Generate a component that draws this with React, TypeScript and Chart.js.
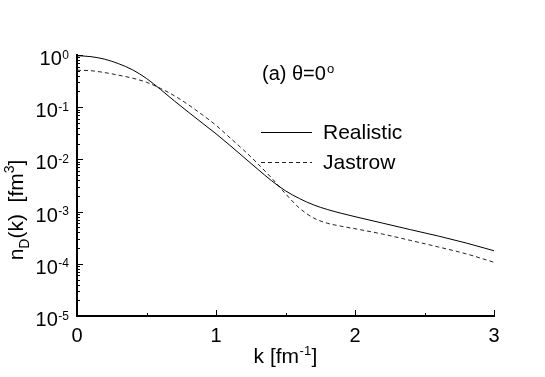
import React, { useEffect, useRef } from "react";
import { Chart, registerables } from "chart.js";

Chart.register(...registerables);

// momentum k [fm^-1]
const kValues = [0, 0.1, 0.2, 0.3, 0.4, 0.5, 0.6, 0.7, 0.8, 0.9, 1.0, 1.1, 1.2, 1.3, 1.4, 1.5, 1.6, 1.7, 1.8, 1.9, 2.0, 2.2, 2.4, 2.6, 2.8, 3.0];
// n_D(k) realistic (solid)
const realistic = [0.97, 0.93, 0.83, 0.68, 0.52, 0.355, 0.22, 0.132, 0.081, 0.05, 0.031, 0.0186, 0.011, 0.0065, 0.0039, 0.0025, 0.00178, 0.00135, 0.0011, 0.00093, 0.0008, 0.0006, 0.00045, 0.00034, 0.00025, 0.000178];
// n_D(k) Jastrow (dashed)
const jastrow = [0.51, 0.5, 0.46, 0.41, 0.36, 0.3, 0.23, 0.166, 0.112, 0.072, 0.045, 0.026, 0.015, 0.0083, 0.0044, 0.0022, 0.00117, 0.00076, 0.0006, 0.000525, 0.00047, 0.00037, 0.00028, 0.00021, 0.000155, 0.000107];

const seriesNames = ["Realistic", "Jastrow"];
const xTickValues = [0, 1, 2, 3];
const xMinorTicks = [0.5, 1.5, 2.5];
const yTickExponents = [0, -1, -2, -3, -4, -5];

const FONT = "'Liberation Sans', Arial, Helvetica, sans-serif";

const overlay = {
  id: "overlay",
  afterDraw(chart: any) {
    const ctx = chart.ctx as CanvasRenderingContext2D;
    const xs = chart.scales.x;
    const ys = chart.scales.y;
    const area = chart.chartArea;
    ctx.save();
    ctx.strokeStyle = "#000";
    ctx.fillStyle = "#000";
    ctx.lineWidth = 1;

    // y ticks (inward)
    for (const e of yTickExponents) {
      const p = Math.round(ys.getPixelForValue(Math.pow(10, e))) + 0.5;
      ctx.beginPath();
      ctx.moveTo(area.left, p);
      ctx.lineTo(area.left + 6, p);
      ctx.stroke();
      if (e < 0) {
        for (let m = 2; m <= 9; m++) {
          const q = Math.round(ys.getPixelForValue(m * Math.pow(10, e))) + 0.5;
          ctx.beginPath();
          ctx.moveTo(area.left, q);
          ctx.lineTo(area.left + 3, q);
          ctx.stroke();
        }
      }
    }
    // x ticks (inward)
    for (const v of xTickValues) {
      const p = Math.round(xs.getPixelForValue(v)) + 0.5;
      ctx.beginPath();
      ctx.moveTo(p, area.bottom);
      ctx.lineTo(p, area.bottom - 6);
      ctx.stroke();
    }
    for (const v of xMinorTicks) {
      const p = Math.round(xs.getPixelForValue(v)) + 0.5;
      ctx.beginPath();
      ctx.moveTo(p, area.bottom);
      ctx.lineTo(p, area.bottom - 3);
      ctx.stroke();
    }

    // y tick labels 10^e
    const rightEdge = area.left - 8;
    for (const e of yTickExponents) {
      const p = ys.getPixelForValue(Math.pow(10, e));
      const sup = e === 0 ? "0" : "-" + String(-e);
      ctx.font = `12px ${FONT}`;
      ctx.textAlign = "right";
      ctx.textBaseline = "alphabetic";
      const sw = ctx.measureText(sup).width;
      ctx.fillText(sup, rightEdge, p + 3.5);
      ctx.font = `20px ${FONT}`;
      ctx.fillText("10", rightEdge - sw - 0.5, p + 10);
    }

    // x tick labels
    ctx.font = `20px ${FONT}`;
    ctx.textAlign = "center";
    ctx.textBaseline = "alphabetic";
    for (const v of xTickValues) {
      const p = xs.getPixelForValue(v);
      ctx.fillText(String(v), p, area.bottom + 26);
    }

    // x title: k [fm^-1]
    {
      const cx = (area.left + area.right) / 2;
      const base = area.bottom + 47;
      ctx.textAlign = "left";
      ctx.font = `21px ${FONT}`;
      const a = "k [fm";
      const wa = ctx.measureText(a).width;
      ctx.font = `13px ${FONT}`;
      const b = "-1";
      const wb = ctx.measureText(b).width;
      ctx.font = `21px ${FONT}`;
      const c = "]";
      const wc = ctx.measureText(c).width;
      const total = wa + wb + 1 + wc;
      let x = cx - total / 2;
      ctx.fillText(a, x, base);
      x += wa + 0.5;
      ctx.font = `13px ${FONT}`;
      ctx.fillText(b, x, base - 8);
      x += wb + 0.5;
      ctx.font = `21px ${FONT}`;
      ctx.fillText(c, x, base);
    }

    // y title: n_D(k) [fm^3]
    {
      ctx.save();
      ctx.translate(23, 210);
      ctx.rotate(-Math.PI / 2);
      const parts: [string, number, number][] = [
        ["n", 21, 0],
        ["D", 14, 6],
        ["(k)  [fm", 21, 0],
        ["3", 14, -9],
        ["]", 21, 0],
      ];
      let total = 0;
      for (const [t, s] of parts) {
        ctx.font = `${s}px ${FONT}`;
        total += ctx.measureText(t).width;
      }
      let x = -total / 2;
      ctx.textAlign = "left";
      ctx.textBaseline = "alphabetic";
      for (const [t, s, dy] of parts) {
        ctx.font = `${s}px ${FONT}`;
        ctx.fillText(t, x, dy);
        x += ctx.measureText(t).width;
      }
      ctx.restore();
    }

    // annotation (a) θ=0°
    {
      const x0 = area.left + 185;
      const base = area.top + 25;
      ctx.textAlign = "left";
      ctx.font = `20px ${FONT}`;
      const t = "(a) θ=0";
      ctx.fillText(t, x0, base);
      const w = ctx.measureText(t).width;
      ctx.font = `13px ${FONT}`;
      ctx.fillText("o", x0 + w + 1, base - 7);
    }

    // legend
    {
      const lx0 = area.left + 184;
      const lx1 = area.left + 235;
      const ys0 = [area.top + 77, area.top + 107];
      ctx.font = `21px ${FONT}`;
      ctx.textAlign = "left";
      ctx.textBaseline = "middle";
      chart.data.datasets.forEach((ds: any, i: number) => {
        const y = Math.round(ys0[i]) + 0.5;
        ctx.save();
        ctx.strokeStyle = ds.borderColor;
        ctx.lineWidth = ds.borderWidth;
        ctx.setLineDash(ds.borderDash || []);
        ctx.beginPath();
        ctx.moveTo(lx0, y);
        ctx.lineTo(lx1, y);
        ctx.stroke();
        ctx.restore();
        ctx.fillText(ds.label, lx1 + 11, y + 1);
      });
    }
    ctx.restore();
  },
};

export default function App() {
  const ref = useRef<HTMLCanvasElement | null>(null);
  useEffect(() => {
    if (!ref.current) return;
    const chart = new Chart(ref.current, {
      type: "line",
      data: {
        datasets: [
          {
            label: seriesNames[0],
            data: kValues.map((k, i) => ({ x: k, y: realistic[i] })),
            borderColor: "#000",
            borderWidth: 1,
            pointRadius: 0,
            cubicInterpolationMode: "monotone",
            fill: false,
          },
          {
            label: seriesNames[1],
            data: kValues.map((k, i) => ({ x: k, y: jastrow[i] })),
            borderColor: "#222",
            borderWidth: 1,
            borderDash: [4, 3],
            pointRadius: 0,
            cubicInterpolationMode: "monotone",
            fill: false,
          },
        ],
      },
      options: {
        responsive: false,
        animation: false,
        layout: { padding: { top: 55, right: 51, left: 0, bottom: 0 } },
        plugins: { legend: { display: false }, tooltip: { enabled: false } },
        scales: {
          x: {
            type: "linear",
            min: 0,
            max: 3,
            grid: { display: false },
            border: { display: true, color: "#000", width: 2 },
            ticks: { display: false },
            afterFit: (s: any) => {
              s.height = 61;
            },
          },
          y: {
            type: "logarithmic",
            min: 1e-5,
            max: 1,
            grid: { display: false },
            border: { display: true, color: "#000", width: 2 },
            ticks: { display: false },
            afterFit: (s: any) => {
              s.width = 77;
            },
          },
        },
      },
      plugins: [overlay],
    } as any);
    return () => chart.destroy();
  }, []);
  return (
    <div style={{ position: "fixed", left: 0, top: 0, width: 545, height: 377, background: "#fff" }}>
      <canvas ref={ref} width={545} height={377} style={{ display: "block" }} />
    </div>
  );
}
